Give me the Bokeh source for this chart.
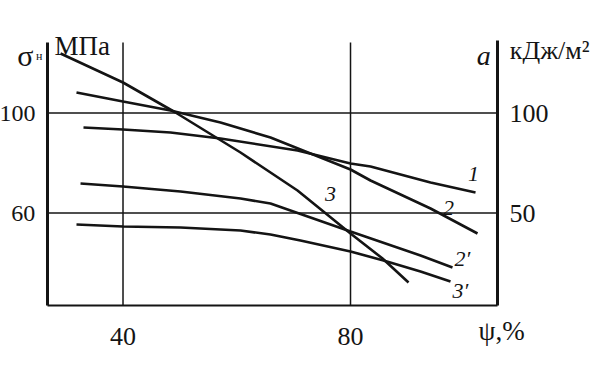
from bokeh.plotting import figure
from bokeh.models import Range1d, LinearAxis, FixedTicker, Label
from bokeh.embed import file_html
from bokeh.resources import INLINE

# psi, % (x) ; sigma, MPa (left axis) ; a, kJ/m^2 (right axis)
x1 = [33.05, 40.0, 48.35, 57.14, 70.68, 80.0, 83.52, 94.07, 101.98]
y1 = [94.2, 93.4, 92.2, 89.8, 85.0, 79.8, 78.6, 72.2, 68.2]

x2 = [31.82, 40.0, 48.35, 57.14, 65.93, 72.97, 80.0, 83.52, 94.07, 102.33]
y2 = [108.2, 104.6, 101.0, 96.2, 90.2, 83.8, 77.4, 73.0, 61.8, 51.8]

x3 = [29.01, 40.0, 49.23, 60.66, 70.68, 80.0, 85.63, 90.20]
y3 = [123.8, 112.2, 100.2, 84.2, 69.0, 51.8, 41.8, 32.2]

x2p = [32.53, 40.0, 50.11, 60.66, 65.93, 72.97, 80.0, 92.31, 97.93]
a2p = [64.75, 63.25, 60.75, 57.25, 54.75, 47.75, 40.75, 28.75, 22.75]

x3p = [31.82, 40.0, 50.11, 60.66, 65.93, 71.2, 80.0, 85.8, 92.31, 97.58]
a3p = [44.25, 43.25, 42.75, 41.25, 39.25, 36.25, 30.75, 26.25, 20.75, 15.75]

x_ticks = [40, 80]
left_ticks = [60, 100]
right_ticks = [50, 100]

FONT = "Liberation Serif"
INK = "#141414"

# extent of the drawn axes box
x_lo, x_hi = 26.7, 105.85
y_lo, y_hi = 23.0, 128.2
a_lo, a_hi = 1.25 * y_lo - 25, 1.25 * 129.0 - 25

# visible window (whole canvas is the plot area)
W, H = 596, 363
vx0, vx1 = 18.46, 123.25
vy0, vy1 = -0.2, 145.0

p = figure(width=W, height=H, output_backend="svg", toolbar_location=None,
           x_range=Range1d(vx0, vx1), y_range=Range1d(vy0, vy1),
           x_axis_location=None, y_axis_location=None,
           min_border=0)
p.extra_y_ranges = {"a": Range1d(1.25 * vy0 - 25, 1.25 * vy1 - 25)}
p.outline_line_color = None
p.background_fill_color = "white"
p.border_fill_color = "white"
p.xgrid.visible = False
p.ygrid.visible = False

def style_axis(ax, lw, standoff, size="26px"):
    ax.axis_line_width = lw
    ax.axis_line_color = INK
    ax.major_tick_line_color = None
    ax.minor_tick_line_color = None
    ax.major_label_text_font = FONT
    ax.major_label_text_font_size = size
    ax.major_label_text_color = INK
    ax.major_label_standoff = standoff

xa = LinearAxis(ticker=FixedTicker(ticks=x_ticks), fixed_location=y_lo, bounds=(x_lo, x_hi))
style_axis(xa, 2, 16)
p.add_layout(xa, "below")

ya = LinearAxis(ticker=FixedTicker(ticks=left_ticks), fixed_location=x_lo, bounds=(y_lo, y_hi))
style_axis(ya, 3, 6, size="24px")
p.add_layout(ya, "left")

ra = LinearAxis(y_range_name="a", ticker=FixedTicker(ticks=right_ticks), fixed_location=x_hi,
                bounds=(a_lo, a_hi))
style_axis(ra, 3, 6)
p.add_layout(ra, "right")

# grid lines, limited to the axes box
p.segment(x0=x_ticks, y0=[y_lo] * len(x_ticks), x1=x_ticks, y1=[y_hi] * len(x_ticks),
          line_color=INK, line_width=1.5)
p.segment(x0=[x_lo] * len(left_ticks), y0=left_ticks, x1=[x_hi] * len(left_ticks), y1=left_ticks,
          line_color=INK, line_width=1.5)

# curves
lw = 2.6
p.line(x1, y1, line_color=INK, line_width=lw)
p.line(x2, y2, line_color=INK, line_width=lw)
p.line(x3, y3, line_color=INK, line_width=lw)
p.line(x2p, a2p, line_color=INK, line_width=lw, y_range_name="a")
p.line(x3p, a3p, line_color=INK, line_width=lw, y_range_name="a")

def lab(x, y, t, size="23px", style="normal", align="left", base="alphabetic", **kw):
    p.add_layout(Label(x=x, y=y, text=t, text_font=FONT, text_font_size=size,
                       text_font_style=style, text_align=align, text_baseline=base,
                       text_color=INK, **kw))

# axis titles
lab(21.4, 123.0, "σ", size="30px")
lab(24.7, 123.0, "н", size="12px")
lab(27.95, 127.0, "МПа", size="27px")
lab(102.2, 123.0, "a", size="28px", style="italic")
lab(108.0, 125.0, "кДж/м²", size="26px")
lab(102.5, 13.0, "ψ,%", size="27px")

# curve labels
lab(101.63, 75.8, "1", size="22px", style="italic", align="center", base="middle")
lab(97.23, 62.2, "2", size="22px", style="italic", align="center", base="middle")
lab(76.48, 67.8, "3", size="22px", style="italic", align="center", base="middle")
lab(99.69, 41.8, "2′", size="22px", style="italic", align="center", base="middle")
lab(99.34, 29.0, "3′", size="22px", style="italic", align="center", base="middle")

open("out.html", "w").write(file_html(p, INLINE))
